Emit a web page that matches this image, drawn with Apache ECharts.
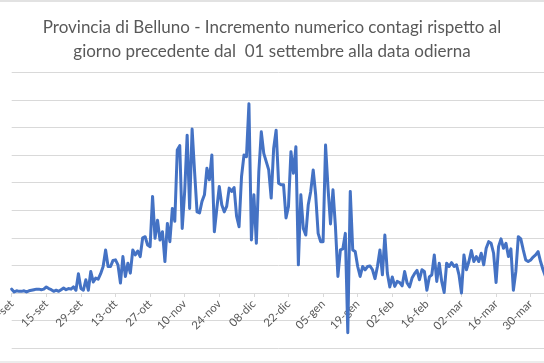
<!DOCTYPE html>
<html>
<head>
<meta charset="utf-8">
<script src="https://cdn.jsdelivr.net/npm/echarts@6/dist/echarts.min.js"></script>
<style>html,body{margin:0;padding:0;background:#fff;}#c{width:544px;height:363px;}</style>
</head>
<body>
<div id="c"></div>
<script>
// Data (daily increments, 01 Sep 2020 onward)
const startDay = 1, startMonthIdx = 8, startYear = 2020;
const monthAbbr = ['gen','feb','mar','apr','mag','giu','lug','ago','set','ott','nov','dic'];
const values = [
  7,2,4,3,3,4,2,4,5,6,
  7,7,6,7,11,8,6,3,5,3,
  6,9,6,8,7,11,5,35,8,5,
  24,5,39,20,27,25,35,48,78,48,
  48,59,60,51,18,66,30,54,36,78,
  69,76,66,100,102,87,84,175,99,132,
  96,111,57,126,93,153,130,259,267,117,
  184,286,153,297,220,147,145,166,178,226,
  205,250,111,153,193,160,147,157,190,184,
  191,139,120,211,250,247,343,96,178,90,
  220,292,253,238,223,172,262,295,199,196,
  196,136,157,256,217,265,51,178,117,105,
  160,184,223,178,108,93,93,268,190,125,
  187,120,30,78,80,108,-72,184,78,75,
  48,30,48,42,48,49,42,26,48,78,
  33,105,36,11,29,12,21,19,13,39,
  18,11,27,35,41,24,42,39,5,29,
  33,69,21,54,21,1,54,48,55,48,
  51,33,0,69,42,57,77,57,66,57,
  72,51,81,93,90,72,19,84,98,81,
  90,66,80,5,39,102,98,78,60,57,
  60,65,69,75,57,42,30
];
const yMin = -100, yMax = 400, yInterval = 50;
const labelEvery = 14;
const titleLines = [
  'Provincia di Belluno - Incremento numerico contagi rispetto al',
  'giorno precedente dal  01 settembre alla data odierna'
];

// category labels: dd-mmm for each day
const categories = [];
(function(){
  const d = new Date(Date.UTC(startYear, startMonthIdx, startDay));
  for (let i = 0; i < values.length; i++) {
    const dd = String(d.getUTCDate()).padStart(2,'0');
    categories.push(dd + '-' + monthAbbr[d.getUTCMonth()]);
    d.setUTCDate(d.getUTCDate() + 1);
  }
})();

const W = 544, H = 363;
const gridTop = 72.2, gridBottom = 14.8;
const plotH = H - gridTop - gridBottom;
// distance from plot bottom (yMin) up to zero, to place the category axis at zero
const zeroOffset = plotH * (0 - yMin) / (yMax - yMin);

const chart = echarts.init(document.getElementById('c'), null, {renderer:'canvas'});
const font = 'Lato, "Open Sans", sans-serif';
chart.setOption({
  animation: false,
  backgroundColor: '#fff',
  title: {
    text: titleLines.join('\n'),
    left: 'center',
    top: 11,
    textStyle: {fontFamily: font, fontSize: 17, fontWeight: 'normal', color: '#595959', lineHeight: 24}
  },
  graphic: [
    {type:'line', shape:{x1:0,y1:1,x2:W,y2:1}, style:{stroke:'#d9d9d9', lineWidth:1.5}, silent:true},
    {type:'line', shape:{x1:0,y1:362,x2:W,y2:362}, style:{stroke:'#d9d9d9', lineWidth:1}, silent:true}
  ],
  grid: {left: 11.7, right: -1.5, top: gridTop, bottom: gridBottom, containLabel: false, outerBoundsMode: 'none'},
  xAxis: {
    type: 'category',
    data: categories,
    boundaryGap: false,
    position: 'bottom',
    offset: -zeroOffset,
    axisLine: {onZero: false, lineStyle: {color: '#d9d9d9', width: 1}},
    axisTick: {show: true, interval: labelEvery - 1, length: 4, lineStyle: {color: '#d9d9d9'}},
    axisLabel: {interval: labelEvery - 1, rotate: 45, margin: 9, fontFamily: font, fontSize: 11.5, color: '#595959'},
    splitLine: {show: false}
  },
  yAxis: {
    type: 'value',
    min: yMin, max: yMax, interval: yInterval,
    axisLine: {show: false}, axisTick: {show: false},
    axisLabel: {show: false},
    splitLine: {lineStyle: {color: '#d9d9d9', width: 1}}
  },
  series: [{
    type: 'line',
    data: values,
    symbol: 'none',
    smooth: false,
    lineStyle: {color: '#4472C4', width: 3, join: 'round', cap: 'round'},
    clip: false,
    z: 5
  }]
});
</script>
</body>
</html>
